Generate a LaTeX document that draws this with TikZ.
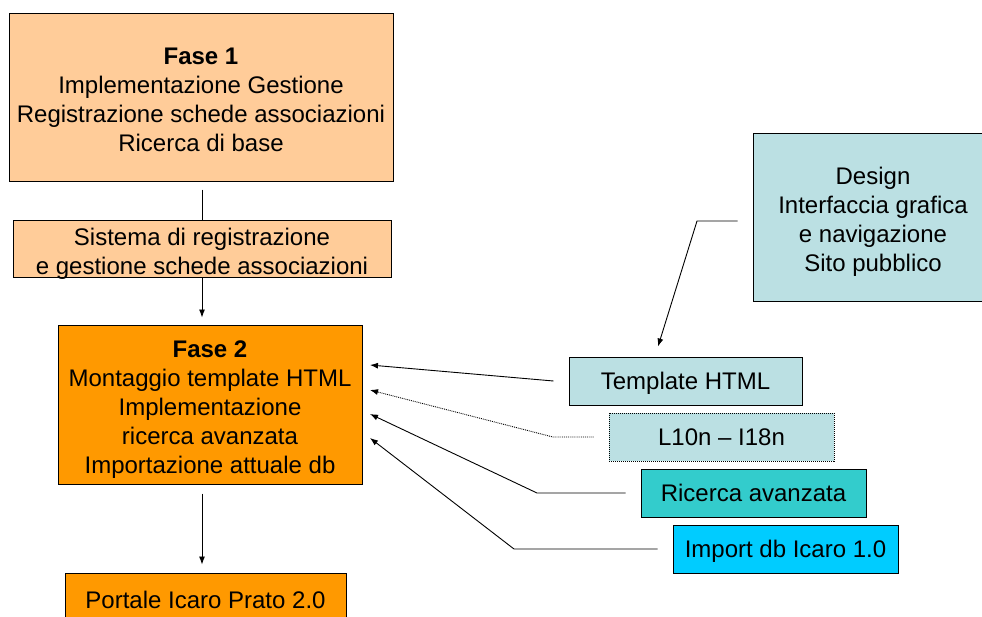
\documentclass[tikz,border=0pt]{standalone}
\usepackage{fontspec}
\setmainfont{Liberation Sans}
\usetikzlibrary{arrows.meta}
\definecolor{peach}{HTML}{FFCC99}
\definecolor{orangeph}{HTML}{FF9900}
\definecolor{paleblue}{HTML}{BBE0E3}
\definecolor{teal2}{HTML}{33CCCC}
\definecolor{skyblue}{HTML}{00CCFF}
\newcommand{\topline}{\rule{0pt}{22.5pt}}
\begin{document}
\begin{tikzpicture}[x=1pt,y=-1pt,
    font=\fontsize{24}{29}\selectfont,
    box/.style ={rectangle, draw, line width=1pt, align=center, inner sep=0pt, text depth=0pt},
    task/.style ={box, minimum width=225pt, minimum height=48pt},
    link/.style ={line width=0.9pt},
    arr/.style ={link, -{Latex[length=8pt,width=6pt]}}]
   \useasboundingbox (0,0) rectangle (982,616);
   \node[box, fill=peach, minimum width=384pt, minimum height=168pt] (fase1) at (201,97)
      {\topline\textbf{Fase 1}\\Implementazione Gestione\\Registrazione schede associazioni\\Ricerca di base};
   \node[box, fill=peach, minimum width=378pt, minimum height=57pt] (sistema) at (202,248.5)
      {\topline Sistema di registrazione\\e gestione schede associazioni};
   \node[box, fill=orangeph, minimum width=304pt, minimum height=159pt] (fase2) at (210,404.5)
      {\topline\textbf{Fase 2}\\Montaggio template HTML\\Implementazione\\ricerca avanzata\\Importazione attuale db};
   \node[box, fill=orangeph, minimum width=281pt, minimum height=54pt] (portale) at (205.5,600)
      {Portale Icaro Prato 2.0};
   \node[box, fill=paleblue, minimum width=240pt, minimum height=168pt] (design) at (873,217)
      {\topline Design\\Interfaccia grafica\\e navigazione\\Sito pubblico};
   \node[task, fill=paleblue, minimum width=233pt] (template) at (685.5,381) {Template HTML};
   \node[task, fill=paleblue, densely dotted] (l10n) at (721.5,437) {L10n -- I18n};
   \node[task, fill=teal2] (ricerca) at (753.5,493) {Ricerca avanzata};
   \node[task, fill=skyblue] (import) at (785.5,549) {Import db Icaro 1.0};
   % arrow ends beside Fase 2
   \coordinate (in1) at (370,365);
   \coordinate (in2) at (370,390);
   \coordinate (in3) at (370,414);
   \coordinate (in4) at (370,438);
   \coordinate (bend0) at (697,221);
   \coordinate (bend2) at (553,437);
   \coordinate (bend3) at (537,493);
   \coordinate (bend4) at (514,549);
   \draw[link, shorten <=8pt] (fase1.south -| sistema.north) -- (sistema.north);
   \draw[arr, shorten >=7pt] (sistema.south) -- (sistema.south |- fase2.north);
   \draw[arr, shorten <=9pt, shorten >=8pt] (sistema.south |- fase2.south) -- (sistema.south |- portale.north);
   \draw[arr] ([xshift=-15pt]bend0 -| design.west) -- (bend0) -- ([xshift=-27.5pt,yshift=10pt]template.north);
   \draw[arr] ([xshift=-15pt]template.west) -- (in1);
   \draw[arr, densely dotted] ([xshift=-15pt]l10n.west) -- (bend2) -- (in2);
   \draw[arr] ([xshift=-15pt]ricerca.west) -- (bend3) -- (in3);
   \draw[arr] ([xshift=-15pt]import.west) -- (bend4) -- (in4);
 \end{tikzpicture}
\end{document}
